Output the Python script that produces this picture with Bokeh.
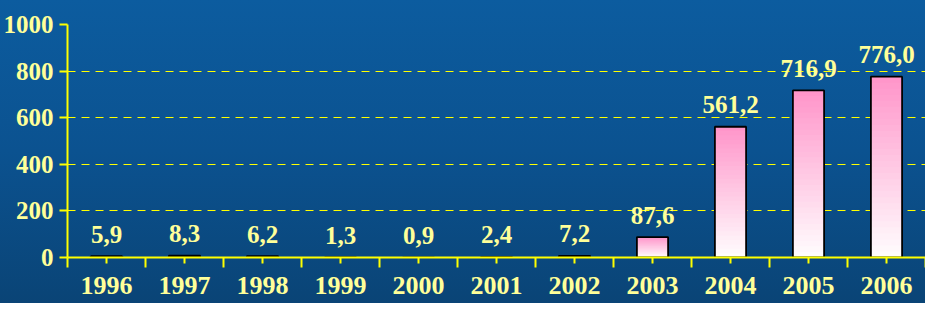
from bokeh.plotting import figure
from bokeh.models import Range1d, FixedTicker
from bokeh.core.properties import value
from bokeh.embed import file_html
from bokeh.resources import INLINE

years = [1996, 1997, 1998, 1999, 2000, 2001, 2002, 2003, 2004, 2005, 2006]
values = [5.9, 8.3, 6.2, 1.3, 0.9, 2.4, 7.2, 87.6, 561.2, 716.9, 776.0]
y_ticks = [0, 200, 400, 600, 800, 1000]
value_labels = [f"{v:.1f}".replace(".", ",") for v in values]

FONT = "Liberation Serif"
TXT = "#FFFF99"
YEL = "#FFFF00"
PINK = (255, 150, 202)
N = 30

p = figure(width=925, height=303, output_backend="svg", toolbar_location=None,
           x_range=Range1d(years[0] - 0.5, years[-1] + 0.5), y_range=Range1d(0, 1000),
           min_border_top=24, min_border_right=0, min_border_bottom=46, min_border_left=0)
p.outline_line_color = None
p.background_fill_alpha = 0
p.border_fill_alpha = 0
p.styles = {"background": "linear-gradient(to bottom, #0C5C9F 0%, #0B5290 50%, #0A4476 100%)"}

# gradient bars: overlapping slices (tallest/pinkest first) computed from the values
xs, tops, cols = [], [], []
for k in range(N):
    frac = (N - k) / N
    r = round(255 + (PINK[0] - 255) * frac)
    g = round(255 + (PINK[1] - 255) * frac)
    b = round(255 + (PINK[2] - 255) * frac)
    for yr, v in zip(years, values):
        xs.append(yr)
        tops.append(v * frac)
        cols.append(f"#{r:02x}{g:02x}{b:02x}")
p.vbar(x=xs, bottom=0, top=tops, width=0.4, fill_color=cols, line_color=None)
p.vbar(x=years, bottom=0, top=values, width=0.4, fill_alpha=0, line_color="black", line_width=1.8)

p.text(x=years, y=values, text=value_labels, text_align="center", text_baseline="alphabetic",
       y_offset=-22, text_font=value(FONT), text_font_style="bold", text_font_size="25px",
       text_color=TXT)

# axes
p.xaxis.ticker = FixedTicker(ticks=years, minor_ticks=[y - 0.5 for y in years] + [years[-1] + 0.5])
p.xaxis.major_label_overrides = {y: str(y) for y in years}
p.xaxis.major_tick_in = 0
p.xaxis.major_tick_out = 6
p.xaxis.minor_tick_in = 0
p.xaxis.minor_tick_out = 10
p.xaxis.major_label_standoff = 9

p.yaxis.ticker = FixedTicker(ticks=y_ticks, minor_ticks=[])
p.yaxis.major_tick_in = 0
p.yaxis.major_tick_out = 8
p.yaxis.minor_tick_out = 0
p.yaxis.major_label_standoff = 6

for ax in (p.xaxis[0], p.yaxis[0]):
    ax.axis_line_color = YEL
    ax.axis_line_width = 2
    ax.major_tick_line_color = YEL
    ax.major_tick_line_width = 2
    ax.minor_tick_line_color = YEL
    ax.minor_tick_line_width = 2
    ax.major_label_text_font = FONT
    ax.major_label_text_font_style = "bold"
    ax.major_label_text_color = TXT
p.xaxis.major_label_text_font_size = "26px"
p.yaxis.major_label_text_font_size = "25px"

p.xgrid.visible = False
p.ygrid.grid_line_color = YEL
p.ygrid.grid_line_dash = "8 6"
p.ygrid.grid_line_width = 1

open("out.html", "w").write(file_html(p, INLINE))
